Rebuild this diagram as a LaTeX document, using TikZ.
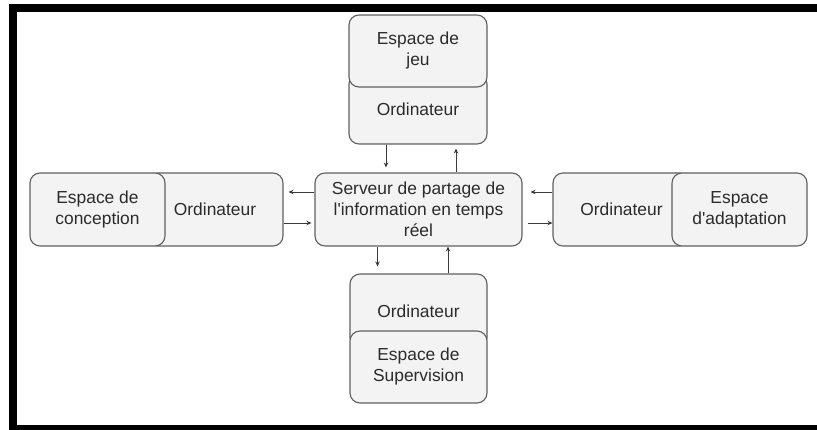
\documentclass[tikz,border=0pt]{standalone}
\usepackage{fontspec}
\setmainfont{Liberation Sans}
\usetikzlibrary{arrows.meta}

\definecolor{boxfill}{HTML}{F3F3F3}
\definecolor{boxline}{HTML}{5F5F5F}
\definecolor{ink}{HTML}{2B2B2B}
\definecolor{wire}{HTML}{3A3A3A}

\tikzset{
  panel/.style={draw=boxline, line width=1.1pt, fill=boxfill, rounded corners=10pt,
    inner sep=0pt, align=center, text=ink,
    font=\fontsize{17.4}{21}\selectfont},
  link/.style={draw=wire, line width=0.9pt,
    -{Stealth[length=5pt,width=4.5pt]}}
}

\begin{document}
\begin{tikzpicture}[x=1pt,y=-1pt]
  \useasboundingbox (0,0) rectangle (817,430);

  % outer frame (top, left and bottom bands)
  \fill[black] (9,4) rectangle (817,12);
  \fill[black] (9,4) rectangle (17,430);
  \fill[black] (9,425) rectangle (817,430);

  % computers, drawn first so the spaces overlap them
  \node[panel, minimum width=138pt, minimum height=70pt] (topOrd) at (418,109) {Ordinateur};
  \node[panel, minimum width=136pt, minimum height=73pt] (leftOrd) at (215,209.5) {Ordinateur};
  \node[panel, minimum width=137pt, minimum height=73pt] (rightOrd) at (621.5,209.5) {Ordinateur};
  \node[panel, minimum width=137pt, minimum height=74pt] (botOrd) at (418.5,311) {Ordinateur};

  % spaces
  \node[panel, minimum width=138pt, minimum height=72pt] (topEsp) at (418,51) {Espace de\\jeu};
  \node[panel, minimum width=135pt, minimum height=73pt] (leftEsp) at (97.5,209.5) {Espace de\\conception};
  \node[panel, minimum width=135pt, minimum height=73pt] (rightEsp) at (739.5,209.5) {Espace\\d\textquotesingle adaptation};
  \node[panel, minimum width=137pt, minimum height=72pt] (botEsp) at (418.5,367) {Espace de\\Supervision};

  % central server
  \node[panel, minimum width=207pt, minimum height=73pt] (srv) at (418.5,209.5)
    {Serveur de partage de\\l\textquotesingle information en temps\\réel};

  % exchanges with the game space
  \draw[link, shorten >=5pt] ([xshift=-32pt]topOrd.south) -- ([xshift=-32.5pt]srv.north);
  \draw[link, shorten >=4pt] ([xshift=37.5pt]srv.north) -- ([xshift=38pt]topOrd.south);

  % exchanges with the design space
  \draw[link, shorten >=5pt] ([yshift=17.5pt]srv.west) -- ([yshift=17.5pt]leftOrd.east);
  \draw[link, shorten >=3pt] ([yshift=-13.5pt]leftOrd.east) -- ([yshift=-13.5pt]srv.west);

  % exchanges with the adaptation space
  \draw[link, shorten >=8pt] ([yshift=17.5pt]rightOrd.west) -- ([yshift=17.5pt]srv.east);
  \draw[link, shorten <=5pt] ([yshift=-13.5pt]srv.east) -- ([yshift=-13.5pt]rightOrd.west);

  % exchanges with the supervision space
  \draw[link, shorten >=7pt] ([xshift=-41pt]srv.south) -- ([xshift=-41pt]botOrd.north);
  \draw[link] ([xshift=29.5pt]botOrd.north) -- ([xshift=29.5pt]srv.south);
\end{tikzpicture}
\end{document}
